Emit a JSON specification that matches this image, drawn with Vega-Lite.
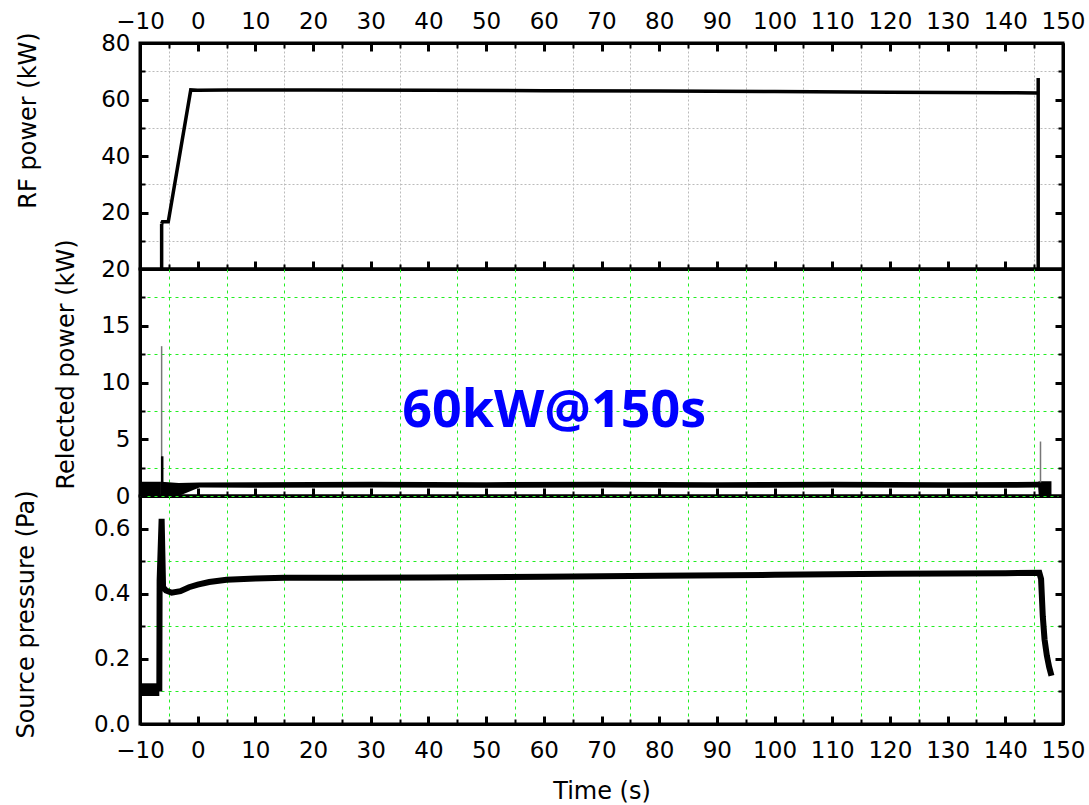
{
  "$schema": "https://vega.github.io/schema/vega-lite/v6.json",
  "padding": {"left": 12, "top": 5, "right": 20, "bottom": 0},
  "background": "white",
  "spacing": 0,
  "bounds": "flush",
  "config": {
    "view": {"stroke": "black", "strokeWidth": 3},
    "axis": {
      "labelFont": "DejaVu Sans", "labelFontSize": 23, "labelColor": "black",
      "titleFont": "DejaVu Sans", "titleFontSize": 24, "titleFontWeight": "normal", "titleColor": "black",
      "domainColor": "black", "domainWidth": 3, "tickColor": "black",
      "labelFlush": false, "labelOverlap": false, "gridWidth": 1
    }
  },
  "datasets": {
    "rf": [
      {"t": -6.25, "kW": 16.0}, {"t": -6.1, "kW": 16.7}, {"t": -5.1, "kW": 16.7},
      {"t": -1.2, "kW": 63.4}, {"t": 0, "kW": 63.3}, {"t": 5, "kW": 63.4}, {"t": 20, "kW": 63.4},
      {"t": 40, "kW": 63.3}, {"t": 60, "kW": 63.1}, {"t": 80, "kW": 63.0}, {"t": 100, "kW": 62.8},
      {"t": 120, "kW": 62.6}, {"t": 140, "kW": 62.4}, {"t": 145.7, "kW": 62.3}
    ],
    "rfrule": [
      {"t": -6.25, "lo": 0, "hi": 16.0},
      {"t": 145.7, "lo": 0, "hi": 67.6}
    ],
    "refl": [
      {"t": -10, "lo": 0, "hi": 1.25}, {"t": -6.3, "lo": 0, "hi": 1.25}, {"t": -3.3, "lo": 0, "hi": 1.15},
      {"t": 0.3, "lo": 0.75, "hi": 1.2}, {"t": 10, "lo": 0.72, "hi": 1.22}, {"t": 30, "lo": 0.74, "hi": 1.25},
      {"t": 50, "lo": 0.72, "hi": 1.22}, {"t": 70, "lo": 0.74, "hi": 1.25}, {"t": 90, "lo": 0.72, "hi": 1.22},
      {"t": 110, "lo": 0.74, "hi": 1.25}, {"t": 130, "lo": 0.72, "hi": 1.22}, {"t": 145.7, "lo": 0.74, "hi": 1.25},
      {"t": 145.8, "lo": 0, "hi": 1.3}, {"t": 148.0, "lo": 0, "hi": 1.3}
    ],
    "reflspike": [
      {"t": -6.25, "lo": 0, "hi": 13.2, "kind": "thin"},
      {"t": -6.15, "lo": 0, "hi": 3.5, "kind": "thick"},
      {"t": 146.1, "lo": 1.2, "hi": 4.8, "kind": "thin"}
    ],
    "note": [{"t": 61.8, "v": 7.5, "label": "60kW@150s"}],
    "pband": [{"t": -10, "lo": 0.086, "hi": 0.125}, {"t": -6.65, "lo": 0.086, "hi": 0.125}],
    "pres": [
      {"t": -6.65, "pa": 0.1}, {"t": -6.6, "pa": 0.44}, {"t": -6.25, "pa": 0.63}, {"t": -6.0, "pa": 0.42},
      {"t": -5.5, "pa": 0.41}, {"t": -4.5, "pa": 0.403}, {"t": -3, "pa": 0.408}, {"t": -1.5, "pa": 0.42},
      {"t": 0, "pa": 0.428}, {"t": 2, "pa": 0.436}, {"t": 5, "pa": 0.443}, {"t": 10, "pa": 0.447},
      {"t": 15, "pa": 0.449}, {"t": 25, "pa": 0.449}, {"t": 40, "pa": 0.45}, {"t": 60, "pa": 0.452},
      {"t": 80, "pa": 0.455}, {"t": 100, "pa": 0.458}, {"t": 120, "pa": 0.461}, {"t": 140, "pa": 0.463},
      {"t": 145.9, "pa": 0.464}, {"t": 146.2, "pa": 0.445}, {"t": 146.5, "pa": 0.33}, {"t": 146.8, "pa": 0.26},
      {"t": 147.2, "pa": 0.21}, {"t": 147.6, "pa": 0.175}, {"t": 148.0, "pa": 0.148}
    ]
  },
  "vconcat": [
    {
      "width": 923, "height": 226,
      "layer": [
        {
          "data": {"name": "rf"},
          "mark": {"type": "line", "color": "black", "strokeWidth": 3.5},
          "encoding": {
            "x": {"field": "t", "type": "quantitative", "scale": {"domain": [-10, 150], "nice": false},
              "axis": {"orient": "top", "title": null,
                "values": [-10,-5,0,5,10,15,20,25,30,35,40,45,50,55,60,65,70,75,80,85,90,95,100,105,110,115,120,125,130,135,140,145,150],
                "labelExpr": "datum.value % 10 === 0 ? datum.label : ''",
                "tickSize": {"condition": {"test": "datum.value % 10 === 0", "value": -8}, "value": -5},
                "tickWidth": {"condition": {"test": "datum.value % 10 === 0", "value": 3}, "value": 2},
                "labelPadding": 18,
                "grid": true, "gridDash": [2, 2],
                "gridColor": {"condition": {"test": "datum.value % 10 === 0", "value": "rgba(0,0,0,0)"}, "value": "#bbbbbb"},
                "gridOpacity": {"condition": {"test": "datum.value % 10 === 0", "value": 0}, "value": 1}}},
            "y": {"field": "kW", "type": "quantitative", "scale": {"domain": [0, 80], "nice": false},
              "axis": {"orient": "left", "title": "RF power (kW)", "titleX": -112, "titleY": 77, "titleAngle": 270, "titleBaseline": "middle", "titleAlign": "center",
                "values": [0,10,20,30,40,50,60,70,80],
                "labelExpr": "datum.value % 20 === 0 && datum.value > 0 ? datum.label : ''",
                "tickSize": {"condition": {"test": "datum.value % 20 === 0", "value": -8}, "value": -5},
                "tickWidth": {"condition": {"test": "datum.value % 20 === 0", "value": 3}, "value": 2},
                "labelPadding": 18,
                "grid": true, "gridDash": [2, 2],
                "gridColor": {"condition": {"test": "datum.value % 20 === 0", "value": "rgba(0,0,0,0)"}, "value": "#bbbbbb"},
                "gridOpacity": {"condition": {"test": "datum.value % 20 === 0", "value": 0}, "value": 1}}}
          }
        },
        {
          "data": {"name": "rfrule"},
          "mark": {"type": "rule", "color": "black", "strokeWidth": 3.5},
          "encoding": {
            "x": {"field": "t", "type": "quantitative",
              "axis": {"orient": "bottom", "title": null, "labels": false, "grid": false,
                "values": [-10,-5,0,5,10,15,20,25,30,35,40,45,50,55,60,65,70,75,80,85,90,95,100,105,110,115,120,125,130,135,140,145,150],
                "tickSize": {"condition": {"test": "datum.value % 10 === 0", "value": -8}, "value": -5},
                "tickWidth": {"condition": {"test": "datum.value % 10 === 0", "value": 3}, "value": 2}}},
            "y": {"field": "hi", "type": "quantitative",
              "axis": {"orient": "right", "title": null, "labels": false, "grid": false,
                "values": [0,10,20,30,40,50,60,70,80],
                "tickSize": {"condition": {"test": "datum.value % 20 === 0", "value": -8}, "value": -5},
                "tickWidth": {"condition": {"test": "datum.value % 20 === 0", "value": 3}, "value": 2}}},
            "y2": {"field": "lo"}
          }
        }
      ],
      "resolve": {"axis": {"x": "independent", "y": "independent"}}
    },
    {
      "width": 923, "height": 227,
      "layer": [
        {
          "data": {"name": "refl"},
          "mark": {"type": "area", "color": "black", "opacity": 1},
          "encoding": {
            "x": {"field": "t", "type": "quantitative", "scale": {"domain": [-10, 150], "nice": false},
              "axis": {"orient": "bottom", "title": null, "labels": false,
                "values": [-10,-5,0,5,10,15,20,25,30,35,40,45,50,55,60,65,70,75,80,85,90,95,100,105,110,115,120,125,130,135,140,145,150],
                "tickSize": {"condition": {"test": "datum.value % 10 === 0", "value": -8}, "value": -5},
                "tickWidth": {"condition": {"test": "datum.value % 10 === 0", "value": 3}, "value": 2},
                "grid": true, "gridColor": "#22ee22", "gridDash": [3, 4],
                "gridOpacity": {"condition": {"test": "datum.value % 10 === 0", "value": 0}, "value": 1}}},
            "y": {"field": "hi", "type": "quantitative", "scale": {"domain": [0, 20], "nice": false},
              "axis": {"orient": "left", "title": "Relected power (kW)", "titleX": -74, "titleY": 95, "titleAngle": 270, "titleBaseline": "middle", "titleAlign": "center",
                "values": [0,2.5,5,7.5,10,12.5,15,17.5,20],
                "labelExpr": "datum.value % 5 === 0 ? datum.label : ''",
                "tickSize": {"condition": {"test": "datum.value % 5 === 0", "value": -8}, "value": -5},
                "tickWidth": {"condition": {"test": "datum.value % 5 === 0", "value": 3}, "value": 2},
                "labelPadding": 18,
                "grid": true, "gridColor": "#22ee22", "gridDash": [3, 4],
                "gridOpacity": {"condition": {"test": "datum.value % 5 === 0", "value": 0}, "value": 1}}},
            "y2": {"field": "lo"}
          }
        },
        {
          "data": {"name": "reflspike"},
          "mark": {"type": "rule"},
          "encoding": {
            "x": {"field": "t", "type": "quantitative", "axis": null},
            "y": {"field": "hi", "type": "quantitative",
              "axis": {"orient": "right", "title": null, "labels": false, "grid": false,
                "values": [0,2.5,5,7.5,10,12.5,15,17.5,20],
                "tickSize": {"condition": {"test": "datum.value % 5 === 0", "value": -8}, "value": -5},
                "tickWidth": {"condition": {"test": "datum.value % 5 === 0", "value": 3}, "value": 2}}},
            "y2": {"field": "lo"},
            "color": {"field": "kind", "type": "nominal", "scale": {"domain": ["thin", "thick"], "range": ["#777777", "black"]}, "legend": null},
            "strokeWidth": {"field": "kind", "type": "nominal", "scale": {"domain": ["thin", "thick"], "range": [1.5, 2.5]}, "legend": null}
          }
        },
        {
          "data": {"name": "note"},
          "mark": {"type": "text", "font": "Open Sans", "fontWeight": "bold", "fontSize": 52, "color": "#0000ff", "align": "center", "baseline": "middle"},
          "encoding": {
            "x": {"field": "t", "type": "quantitative", "axis": null},
            "y": {"field": "v", "type": "quantitative", "axis": null},
            "text": {"field": "label"}
          }
        }
      ],
      "resolve": {"axis": {"x": "independent", "y": "independent"}}
    },
    {
      "width": 923, "height": 228,
      "layer": [
        {
          "data": {"name": "pband"},
          "mark": {"type": "area", "color": "black"},
          "encoding": {
            "x": {"field": "t", "type": "quantitative", "scale": {"domain": [-10, 150], "nice": false},
              "axis": {"orient": "bottom", "title": "Time (s)", "titlePadding": 14,
                "values": [-10,-5,0,5,10,15,20,25,30,35,40,45,50,55,60,65,70,75,80,85,90,95,100,105,110,115,120,125,130,135,140,145,150],
                "labelExpr": "datum.value % 10 === 0 ? datum.label : ''",
                "tickSize": {"condition": {"test": "datum.value % 10 === 0", "value": -8}, "value": -5},
                "tickWidth": {"condition": {"test": "datum.value % 10 === 0", "value": 3}, "value": 2},
                "labelPadding": 23,
                "grid": true, "gridColor": "#22ee22", "gridDash": [3, 4],
                "gridOpacity": {"condition": {"test": "datum.value % 10 === 0", "value": 0}, "value": 1}}},
            "y": {"field": "hi", "type": "quantitative", "scale": {"domain": [0, 0.7], "nice": false},
              "axis": {"orient": "left", "title": "Source pressure (Pa)", "titleX": -114, "titleY": 118, "titleAngle": 270, "titleBaseline": "middle", "titleAlign": "center",
                "values": [0,0.1,0.2,0.3,0.4,0.5,0.6,0.7],
                "format": ".1f",
                "labelExpr": "round(datum.value*10) % 2 === 0 && datum.value < 0.65 ? datum.label : ''",
                "tickSize": {"condition": {"test": "round(datum.value*10) % 2 === 0", "value": -8}, "value": -5},
                "tickWidth": {"condition": {"test": "round(datum.value*10) % 2 === 0", "value": 3}, "value": 2},
                "labelPadding": 18,
                "grid": true, "gridColor": "#22ee22", "gridDash": [3, 4],
                "gridOpacity": {"condition": {"test": "round(datum.value*10) % 2 === 0", "value": 0}, "value": 1}}},
            "y2": {"field": "lo"}
          }
        },
        {
          "data": {"name": "pres"},
          "mark": {"type": "line", "color": "black", "strokeWidth": 6},
          "encoding": {
            "x": {"field": "t", "type": "quantitative", "axis": null},
            "y": {"field": "pa", "type": "quantitative",
              "axis": {"orient": "right", "title": null, "labels": false, "grid": false,
                "values": [0,0.1,0.2,0.3,0.4,0.5,0.6,0.7],
                "tickSize": {"condition": {"test": "round(datum.value*10) % 2 === 0", "value": -8}, "value": -5},
                "tickWidth": {"condition": {"test": "round(datum.value*10) % 2 === 0", "value": 3}, "value": 2}}}
          }
        }
      ],
      "resolve": {"axis": {"x": "independent", "y": "independent"}}
    }
  ]
}
